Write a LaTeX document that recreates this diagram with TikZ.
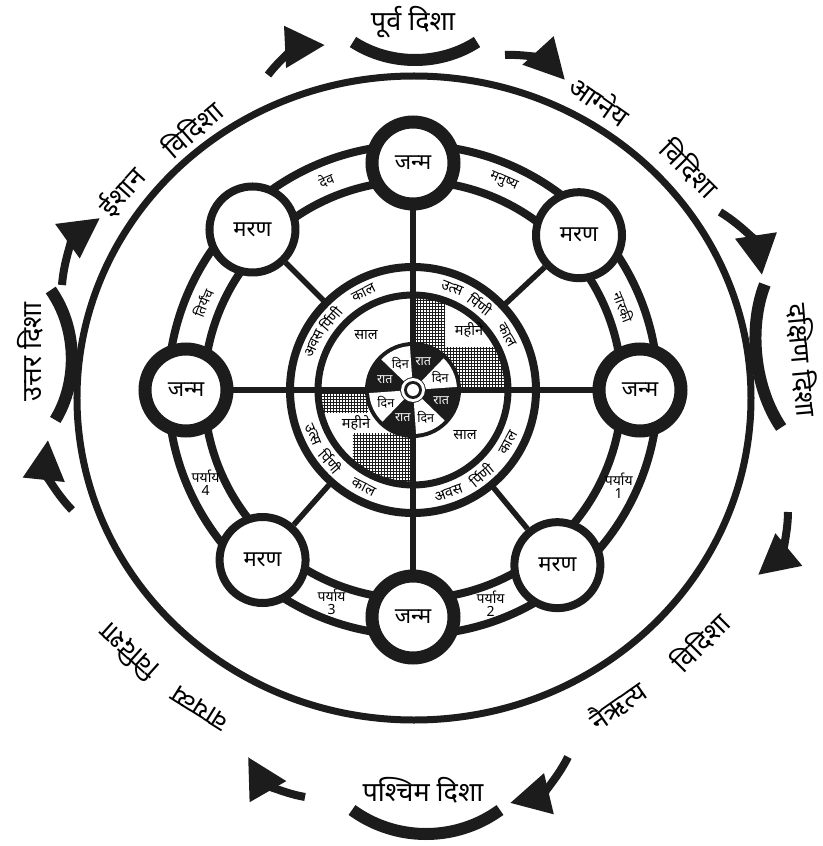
\documentclass[tikz,border=0pt]{standalone}
\usepackage{fontspec}
\newfontfamily\dev[Script=Devanagari]{Noto Sans}
\usepackage{tikz}
\usetikzlibrary{positioning,arrows.meta,calc,patterns}
\definecolor{ink}{RGB}{28,28,28}
\tikzset{
  janma/.style={circle, draw=ink, line width=13pt, fill=white, minimum size=82pt, inner sep=0pt, font=\dev\fontsize{22}{26}\selectfont},
  marana/.style={circle, draw=ink, line width=8pt, fill=white, minimum size=86pt, inner sep=0pt, font=\dev\fontsize{22}{26}\selectfont},
  ring/.style={draw=ink, line width=8pt},
  spoke/.style={draw=ink, line width=5.5pt},
  bow/.style={draw=ink, line width=12pt},
  dirarr/.style={draw=ink, line width=8pt, -{Triangle[length=40pt,width=40pt]}},
  dirlbl/.style={font=\dev\fontsize{27}{32}\selectfont, inner sep=0pt},
  bandlbl/.style={font=\dev\fontsize{14}{13}\selectfont, inner sep=0pt, align=center},
  kaal/.style={font=\dev\fontsize{14.5}{16}\selectfont, inner sep=0pt},
  daylbl/.style={font=\dev\fontsize{12.5}{14}\selectfont, inner sep=0pt},
}

\begin{document}
\begin{tikzpicture}[x=1pt,y=1pt]
  \path[fill=white, use as bounding box] (-413,-456) rectangle (409,390);
  \coordinate (c) at (0,0);
  \draw[ink, line width=7pt] (1,-8) ellipse[x radius=337, y radius=322];

  \draw[ring] (c) circle[radius=245];
  \draw[ring] (c) circle[radius=209];

  \node[janma] (jt) at (90:227) {जन्म};
  \node[janma] (jr) at (0:227) {जन्म};
  \node[janma] (jb) at (270:227) {जन्म};
  \node[janma] (jl) at (180:227) {जन्म};
  \node[marana] (mtr) at (43:227) {मरण};
  \node[marana] (mbr) at (309.5:227) {मरण};
  \node[marana] (mbl) at (228.5:227) {मरण};
  \node[marana] (mtl) at (135:227) {मरण};

  \node[bandlbl, rotate=22.5] (dev) at (112.5:227) {देव};
  \node[bandlbl, rotate=-23.5] (manu) at (66.5:227) {मनुष्य};
  \node[bandlbl, rotate=-68.5] (narak) at (21.5:227) {नारकी};
  \node[bandlbl, rotate=67.5] (tiry) at (157.5:227) {तिर्यंच};
  \node[bandlbl] (p1) at (-25:227) {पर्याय\\1};
  \node[bandlbl] (p2) at (-70:227) {पर्याय\\2};
  \node[bandlbl] (p3) at (-111:227) {पर्याय\\3};
  \node[bandlbl] (p4) at (204:227) {पर्याय\\4};

  \begin{scope}
    \clip (c) circle[radius=95];
    \fill[pattern=grid, pattern color=ink] (0,0) -- (0,95) -- (32,95) -- (32,43) -- (95,43) -- (95,0) -- cycle;
    \fill[pattern=grid, pattern color=ink] (-95,0) rectangle (-45,-22);
    \fill[pattern=grid, pattern color=ink] (-60,-43) rectangle (0,-95);
  \end{scope}
  \draw[ring] (c) circle[radius=123];
  \draw[ink, line width=7pt] (c) circle[radius=95];
  \draw[spoke] (jl) -- (jr);
  \draw[spoke] (jt) -- (jb);
  \foreach \m in {mtr,mtl,mbl,mbr}
    \draw[spoke] ($(c)!123pt!(\m)$) coordinate (k\m) -- (\m);

  \foreach \t/\a in {अवस/155,र्पिणी/139,काल/117}
    \node[kaal, rotate=\a-90] at (\a:109) {\t};
  \foreach \t/\a in {उत्स/69,र्पिणी/52,काल/30}
    \node[kaal, rotate=\a-90] at (\a:109) {\t};
  \foreach \t/\a in {उत्स/204,र्पिणी/221,काल/243}
    \node[kaal, rotate=\a+90] at (\a:109) {\t};
  \foreach \t/\a in {अवस/-71,र्पिणी/-51,काल/-29}
    \node[kaal, rotate=\a+90] at (\a:109) {\t};

  \node[kaal] (saal1) at (-47,55) {साल};
  \node[kaal] (saal2) at (52,-45) {साल};
  \node[kaal] (mahine1) at (56,60) {महीने};
  \node[kaal] (mahine2) at (-57,-33) {महीने};

  \fill[ink] (c) circle[radius=48];
  \foreach \a in {25,115,205,295}
    \fill[white] ({\a-21}:13) -- ({\a-21}:44) arc[start angle=\a-21, end angle=\a+21, radius=44]
      -- ({\a+21}:13) arc[start angle=\a+21, end angle=\a-21, radius=13] -- cycle;
  \foreach \a in {25,115,205,295}
    \node[daylbl] at (\a:30) {दिन};
  \foreach \a in {70,160,250,340}
    \node[daylbl, text=white] at (\a:30) {रात};
  \fill[white] (c) circle[radius=12];
  \fill[ink] (c) circle[radius=9];
  \fill[white] (c) circle[radius=6];

  \node[dirlbl] (purva) at (0,368) {पूर्व दिशा};
  \node[dirlbl, rotate=90] (uttar) at (-383,38) {उत्तर दिशा};
  \node[dirlbl, rotate=-85] (dakshin) at (390,30) {दक्षिण दिशा};
  \node[dirlbl] (pashchim) at (10,-400) {पश्चिम दिशा};
  \node[dirlbl, rotate=48] (ishan) at (-291,198) {ईशान};
  \node[dirlbl, rotate=41] (ishanv) at (-221,261) {विदिशा};
  \node[dirlbl, rotate=-35] (agni) at (187,290) {आग्नेय};
  \node[dirlbl, rotate=-45] (agniv) at (277,222) {विदिशा};
  \node[dirlbl, rotate=35] (nairt) at (204,-315) {नैऋत्य};
  \node[dirlbl, rotate=45] (nairtv) at (287,-252) {विदिशा};
  \node[dirlbl, rotate=148] (vayu) at (-213,-318) {वायव्य};
  \node[dirlbl, rotate=138] (vayuv) at (-285,-262) {विदिशा};

  \begin{scope}[shift={(2,348)}]
    \draw[bow] (-62,0) .. controls (-25,-24) and (25,-24) .. (62,0);
  \end{scope}
  \begin{scope}[shift={(-360,35)}, rotate=92]
    \draw[bow] (-65,0) .. controls (-27,-25) and (27,-25) .. (65,0);
  \end{scope}
  \begin{scope}[shift={(360,34)}, rotate=-83.5]
    \draw[bow] (-72,0) .. controls (-30,-22) and (30,-22) .. (72,0);
  \end{scope}
  \begin{scope}[shift={(13,-420)}]
    \draw[bow] (-74,0) .. controls (-30,-32) and (30,-32) .. (74,0);
  \end{scope}

  \foreach \sx/\sy/\ex/\ey [count=\i] in {-145/315/-88/345, 92/335/152/310, 307/178/349/115,
      375/-122/345/-185, 155/-367/97/-413, -108/-407/-165/-367, -341/-120/-365/-50, -351/105/-313/172}{
    \coordinate (as\i) at (\sx,\sy);
    \coordinate (ae\i) at (\ex,\ey);
    \draw[dirarr] (as\i) to[bend left=25] (ae\i);
  }
\end{tikzpicture}
\end{document}
